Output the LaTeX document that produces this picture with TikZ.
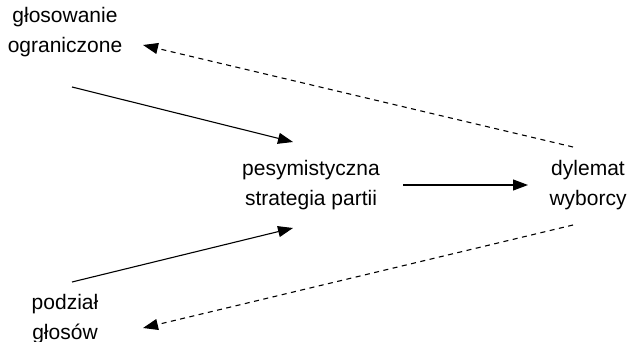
\documentclass[tikz,border=0pt]{standalone}
\usepackage{fontspec}
\setmainfont{Liberation Sans}
\usetikzlibrary{arrows.meta}
\begin{document}
\begin{tikzpicture}[x=1pt,y=-1pt,
  lbl/.style={align=center,font=\fontsize{21}{29.5}\selectfont,inner sep=0pt},
  link/.style={line width=1.1pt,-{Triangle[length=15pt,width=11pt]}},
  back/.style={link,dash pattern=on 5pt off 4.5pt}]
  \useasboundingbox (0,0) rectangle (628,342);
  \node[lbl] (gl) at (65,32) {głosowanie\\ograniczone};
  \node[lbl] (ps) at (311,185) {pesymistyczna\\strategia partii};
  \node[lbl] (dy) at (588,185) {dylemat\\wyborcy};
  \node[lbl] (po) at (65,319) {podział\\głosów};
  % causal links into the party strategy
  \draw[link] ([shift={(7,55)}]gl.center) -- ([shift={(-18,-43)}]ps.center);
  \draw[link] ([shift={(7,-37)}]po.center) -- ([shift={(-18,43)}]ps.center);
  \draw[link] ([shift={(92,0)}]ps.center) -- ([shift={(-60,0)}]dy.center);
  % feedback from the voter's dilemma
  \draw[back] ([shift={(-15,-38)}]dy.center) -- ([shift={(78,13)}]gl.center);
  \draw[back] ([shift={(-15,40)}]dy.center) -- ([shift={(78,9)}]po.center);
\end{tikzpicture}
\end{document}
